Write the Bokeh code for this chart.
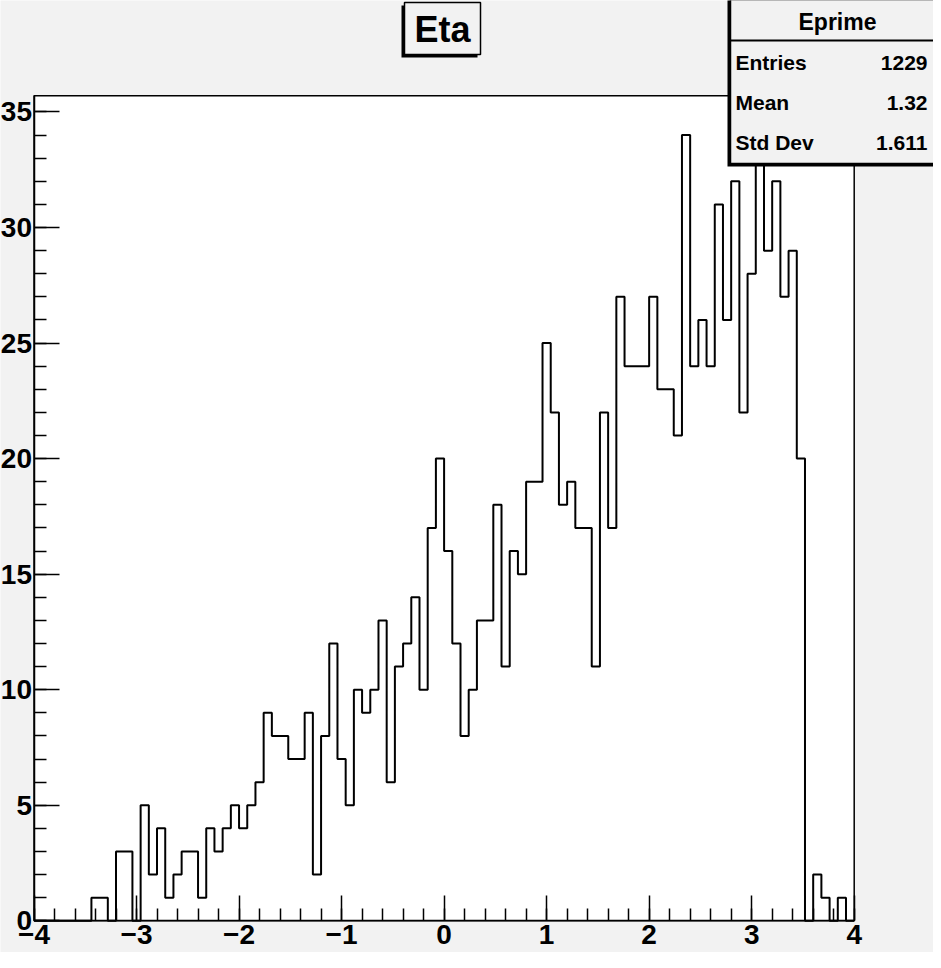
import numpy as np
from bokeh.plotting import figure
from bokeh.models import Range1d, FixedTicker, BoxAnnotation, Label
from bokeh.embed import file_html
from bokeh.resources import INLINE

# ---------------- data ----------------
x_min, x_max = -4.0, 4.0
counts = [0, 0, 0, 0, 0, 0, 0, 1, 1, 0,
          3, 3, 0, 5, 2, 4, 1, 2, 3, 3,
          1, 4, 3, 4, 5, 4, 5, 6, 9, 8,
          8, 7, 7, 9, 2, 8, 12, 7, 5, 10,
          9, 10, 13, 6, 11, 12, 14, 10, 17, 20,
          16, 12, 8, 10, 13, 13, 18, 11, 16, 15,
          19, 19, 25, 22, 18, 19, 17, 17, 11, 22,
          17, 27, 24, 24, 24, 27, 23, 23, 21, 34,
          24, 26, 24, 31, 26, 32, 22, 28, 33, 29,
          32, 27, 29, 20, 0, 2, 1, 0, 1, 0]
y_max = 35.7

x_ticks = [-4, -3, -2, -1, 0, 1, 2, 3, 4]
x_tick_labels = ["\u22124", "\u22123", "\u22122", "\u22121", "0", "1", "2", "3", "4"]
y_ticks = [0, 5, 10, 15, 20, 25, 30, 35]
y_tick_labels = ["0", "5", "10", "15", "20", "25", "30", "35"]

title_text = "Eta"
stats_name = "Eprime"
stats_keys = ["Entries", "Mean", "Std Dev"]
stats_vals = ["1229", "1.32", "1.611"]

# ---------------- layout (canvas pixels) ----------------
BG = "#f2f2f2"
FONT = "Liberation Sans"
W, H = 933, 952
FL, FR, FT, FB = 33.5, 853.7, 95.3, 920.3   # histogram frame inside the canvas

ppx = (FR - FL) / (x_max - x_min)
ppy = (FB - FT) / y_max
xr = Range1d(x_min - FL / ppx, x_max + (W - FR) / ppx)
yr = Range1d(0 - (H - FB) / ppy, y_max + FT / ppy)

p = figure(width=W, height=H, output_backend="svg", toolbar_location=None,
           x_range=xr, y_range=yr, min_border=0,
           min_border_left=0, min_border_right=0, min_border_top=0, min_border_bottom=0)
p.background_fill_color = BG
p.border_fill_color = BG
p.outline_line_color = None
p.xgrid.visible = False
p.ygrid.visible = False

# histogram pad (white) with frame outline
p.quad(left=[x_min], right=[x_max], bottom=[0], top=[y_max],
       fill_color="white", line_color="black", line_width=1.5)

n_bins = len(counts)
edges = np.linspace(x_min, x_max, n_bins + 1)
step_y = list(counts) + [counts[-1]]
p.step(x=edges, y=step_y, mode="after", line_color="black", line_width=2)

# axes, pinned to the histogram frame
xa = p.xaxis[0]
xa.fixed_location = 0
xa.bounds = (x_min, x_max)
xa.ticker = FixedTicker(ticks=x_ticks, minor_ticks=list(np.arange(x_min, x_max + 1e-9, 0.2)))
xa.major_label_overrides = {t: l for t, l in zip(x_ticks, x_tick_labels)}
ya = p.yaxis[0]
ya.fixed_location = x_min
ya.bounds = (0, y_max)
ya.ticker = FixedTicker(ticks=y_ticks, minor_ticks=list(range(0, 36)))
ya.major_label_overrides = {t: l for t, l in zip(y_ticks, y_tick_labels)}
for ax in (xa, ya):
    ax.axis_line_color = "black"
    ax.axis_line_width = 1.5
    ax.major_tick_in = 25
    ax.major_tick_out = 0
    ax.minor_tick_in = 12
    ax.minor_tick_out = 0
    ax.major_tick_line_color = "black"
    ax.major_tick_line_width = 1.5
    ax.minor_tick_line_color = "black"
    ax.minor_tick_line_width = 1.5
    ax.major_label_text_font = FONT
    ax.major_label_text_font_style = "bold"
    ax.major_label_text_font_size = "28px"
    ax.major_label_text_color = "black"
xa.major_label_standoff = 4
ya.major_label_standoff = 2

# ---------------- boxes ----------------
def box(l, r, t, b, fill, line=None, lw=1.5):
    return BoxAnnotation(left=l, right=r, top=t, bottom=b,
                         left_units="canvas", right_units="canvas",
                         top_units="canvas", bottom_units="canvas",
                         fill_color=fill, fill_alpha=1.0,
                         line_color=line if line else fill, line_width=lw,
                         line_alpha=1.0 if line else 0.0)

def label(x, y, text, size, align):
    return Label(x=x, y=y, x_units="canvas", y_units="canvas", text=text,
                 text_font=FONT, text_font_style="bold", text_font_size=size,
                 text_align=align, text_baseline="middle", text_color="black")

# title box
p.add_layout(box(401, 477, 5, 57, "black"))
p.add_layout(box(404, 480, 2, 54, BG, "black"))
p.add_layout(label(442, 29, title_text, "36px", "center"))

# stats box
p.add_layout(box(727, 940, -5, 166, "black"))
p.add_layout(box(730, 943, -8, 163, BG, "black"))
p.add_layout(box(730, 943, 39, 41, "black"))
p.add_layout(label(837, 21, stats_name, "23px", "center"))
for i, (k, v) in enumerate(zip(stats_keys, stats_vals)):
    yy = 62 + 40 * i
    p.add_layout(label(735, yy, k, "21px", "left"))
    p.add_layout(label(927, yy, v, "21px", "right"))

open("out.html", "w").write(file_html(p, INLINE))
